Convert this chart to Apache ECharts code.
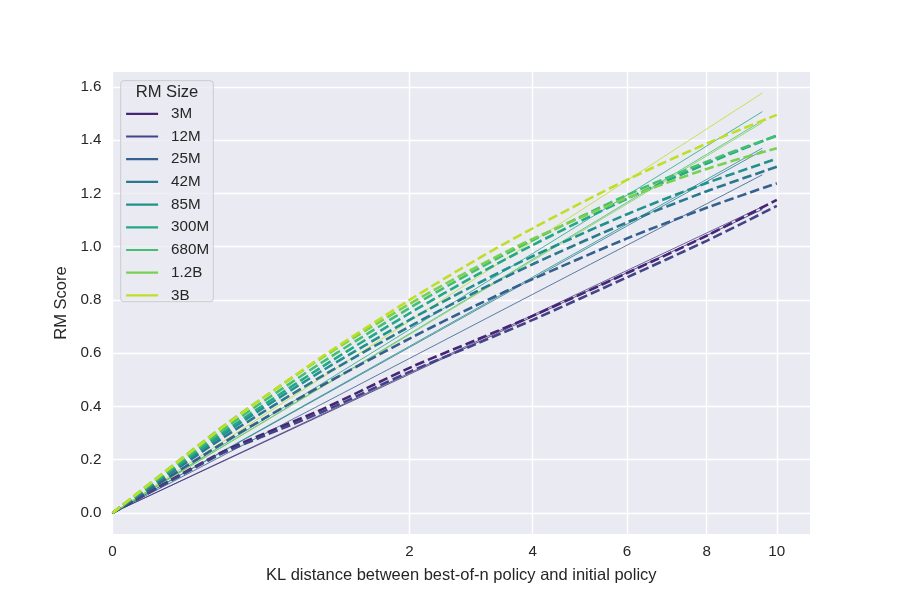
<!DOCTYPE html>
<html>
<head>
<meta charset="utf-8">
<script src="https://cdn.jsdelivr.net/npm/echarts@6/dist/echarts.min.js"></script>
<style>html,body{margin:0;padding:0;background:#fff}#c{width:900px;height:600px}</style>
</head>
<body>
<div id="c"></div>
<script>
// ---- data ----
const rmSizes = ['3M', '12M', '25M', '42M', '85M', '300M', '680M', '1.2B', '3B'];
const palette = ['#482475', '#414487', '#355f8d', '#2a788e', '#21918c', '#22a884', '#44bf70', '#7ad151', '#bddf26'];

// observed (dashed) curves, sampled at these KL values
const klObserved = [0, 0.25, 0.5, 1, 2, 3, 4, 6, 8, 10];
const obs3M   = [0, 0.220, 0.293, 0.390, 0.545, 0.650, 0.740, 0.901, 1.041, 1.176];
const obs12M  = [0, 0.215, 0.285, 0.380, 0.530, 0.635, 0.725, 0.885, 1.022, 1.153];
const obs25M  = [0, 0.250, 0.348, 0.480, 0.655, 0.780, 0.878, 1.031, 1.146, 1.238];
const obs42M  = [0, 0.269, 0.374, 0.515, 0.700, 0.831, 0.934, 1.091, 1.208, 1.300];
const obs85M  = [0, 0.280, 0.389, 0.535, 0.725, 0.859, 0.964, 1.122, 1.239, 1.330];
const obs300M = [0, 0.287, 0.399, 0.550, 0.750, 0.893, 1.006, 1.180, 1.312, 1.417];
const obs680M = [0, 0.298, 0.413, 0.567, 0.770, 0.913, 1.024, 1.194, 1.319, 1.417];
const obs1_2B = [0, 0.310, 0.427, 0.584, 0.785, 0.923, 1.029, 1.183, 1.292, 1.370];
const obs3B   = [0, 0.307, 0.427, 0.588, 0.800, 0.951, 1.069, 1.251, 1.387, 1.495];

// fitted (solid) lines
const klFit = [0, 9.57];
const fit3M   = [0, 1.140];
const fit12M  = [0, 1.150];
const fit25M  = [0, 1.270];
const fit42M  = [0, 1.361];
const fit85M  = [0, 1.370];
const fit300M = [0, 1.507];
const fit680M = [0, 1.473];
const fit1_2B = [0, 1.466];
const fit3B   = [0, 1.577];

const xTickLabels = ['0', '2', '4', '6', '8', '10'];
const xTickKL = [0, 2, 4, 6, 8, 10];
const yTicks = [0, 0.2, 0.4, 0.6, 0.8, 1.0, 1.2, 1.4, 1.6];

// ---- build ----
const observed = [obs3M, obs12M, obs25M, obs42M, obs85M, obs300M, obs680M, obs1_2B, obs3B];
const fitted = [fit3M, fit12M, fit25M, fit42M, fit85M, fit300M, fit680M, fit1_2B, fit3B];
const sq = Math.sqrt;
const xTickPos = xTickKL.map(sq);

const font = '"Liberation Sans", Arial, "DejaVu Sans", sans-serif';
const txt = '#262626';

const series = [];
rmSizes.forEach((name, i) => {
  series.push({
    name, type: 'line', symbol: 'none', silent: true, z: 2,
    data: klFit.map((k, j) => [sq(k), fitted[i][j]]),
    lineStyle: { color: palette[i], width: 0.8, type: 'solid' },
    itemStyle: { color: palette[i] }
  });
});
rmSizes.forEach((name, i) => {
  series.push({
    name, type: 'line', symbol: 'none', silent: true, smooth: 0.3, z: 3,
    data: klObserved.map((k, j) => [sq(k), observed[i][j]]),
    lineStyle: { color: palette[i], width: 2.6, type: [9.5, 4] },
    itemStyle: { color: palette[i] }
  });
});

const chart = echarts.init(document.getElementById('c'), null, { renderer: 'canvas' });
chart.setOption({
  backgroundColor: '#ffffff',
  animation: false,
  grid: {
    left: 112.5, top: 72, right: 90, bottom: 66,
    show: true, backgroundColor: '#EAEAF2', borderWidth: 0,
    outerBoundsMode: 'none'
  },
  xAxis: {
    type: 'value', min: 0, max: 3.3204,
    name: 'KL distance between best-of-n policy and initial policy',
    nameLocation: 'middle', nameGap: 33,
    nameTextStyle: { fontFamily: font, fontSize: 16.5, color: txt },
    axisLine: { show: false },
    axisTick: { show: false, customValues: xTickPos },
    axisLabel: {
      customValues: xTickPos, margin: 10,
      fontFamily: font, fontSize: 15.2, color: txt,
      formatter: v => {
        let best = 0;
        xTickPos.forEach((p, i) => { if (Math.abs(p - v) < Math.abs(xTickPos[best] - v)) best = i; });
        return xTickLabels[best];
      }
    },
    splitLine: { show: true, lineStyle: { color: '#ffffff', width: 1.4 } }
  },
  yAxis: {
    type: 'value', min: -0.0789, max: 1.6559,
    name: 'RM Score', nameLocation: 'middle', nameGap: 42,
    nameTextStyle: { fontFamily: font, fontSize: 16.5, color: txt },
    axisLine: { show: false },
    axisTick: { show: false, customValues: yTicks },
    axisLabel: {
      customValues: yTicks, margin: 11,
      fontFamily: font, fontSize: 15.2, color: txt,
      formatter: v => v.toFixed(1)
    },
    splitLine: { show: true, lineStyle: { color: '#ffffff', width: 1.4 } }
  },
  legend: {
    data: rmSizes, orient: 'vertical', left: 125, top: 106.3, padding: 0,
    itemWidth: 32, itemHeight: 14, itemGap: 7.7, z: 10,
    selectedMode: false,
    itemStyle: { opacity: 0, borderWidth: 0 },
    lineStyle: { width: 2.2, type: 'solid' },
    textStyle: { fontFamily: font, fontSize: 15.2, color: txt, padding: [0, 0, 0, 8] }
  },
  graphic: {
    elements: [
      {
        type: 'rect', z: 5, silent: true,
        shape: { x: 120.7, y: 80.7, width: 92.6, height: 221, r: 3 },
        style: { fill: 'rgba(234,234,242,0.8)', stroke: '#cccccc', lineWidth: 1 }
      },
      {
        type: 'text', z: 11, silent: true, x: 167, y: 92.5,
        style: { text: 'RM Size', font: '16.6px ' + font, fill: txt, textAlign: 'center', textVerticalAlign: 'middle' }
      }
    ]
  },
  series
});
</script>
</body>
</html>
